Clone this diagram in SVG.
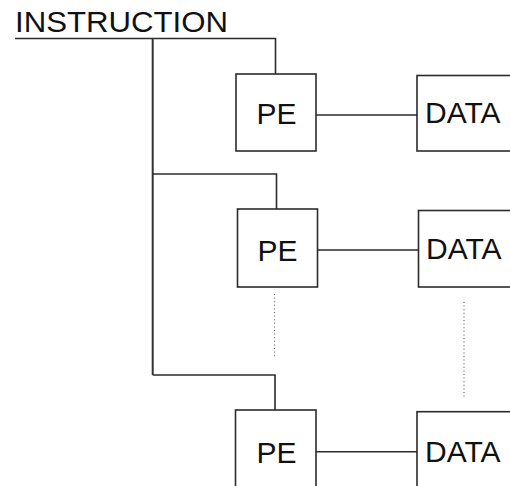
<svg xmlns="http://www.w3.org/2000/svg" width="510" height="486" viewBox="0 0 510 486">
  <style>
    .box { fill: #ffffff; stroke: #2b2b2b; stroke-width: 1.6; }
    .wire { fill: none; stroke: #2b2b2b; stroke-width: 1.6; }
    .trunk { fill: none; stroke: #333333; stroke-width: 2; }
    .dots { fill: none; stroke: #666666; stroke-width: 1.2; stroke-dasharray: 1 2.6; }
    .lbl { font-family: "Liberation Sans", Arial, sans-serif; font-size: 30px; fill: #111111; }
  </style>
  <rect width="510" height="486" fill="#ffffff"/>

  <!-- instruction bus label -->
  <text class="lbl" x="15" y="31.5" font-size="31" textLength="213" lengthAdjust="spacingAndGlyphs">INSTRUCTION</text>

  <g id="connectors">
    <!-- broadcast bus -->
    <polyline class="wire" points="15,38.5 275.5,38.5 275.5,74"/>
    <line class="trunk" x1="152.7" y1="38.5" x2="152.7" y2="375"/>
    <polyline class="wire" points="152.7,174 276.5,174 276.5,209"/>
    <polyline class="wire" points="152.7,375 275,375 275,410"/>
    <!-- PE to DATA links -->
    <line class="wire" x1="316" y1="115" x2="417" y2="115"/>
    <line class="wire" x1="317.5" y1="250" x2="418.5" y2="250"/>
    <line class="wire" x1="316" y1="451.7" x2="417" y2="451.7"/>
    <!-- elision marks -->
    <line class="dots" x1="274.5" y1="294" x2="274.5" y2="358"/>
    <line class="dots" x1="464" y1="302" x2="464" y2="397"/>
  </g>

  <g id="pe1">
    <rect class="box" x="236" y="74" width="80" height="77"/>
    <text class="lbl" x="256.5" y="124">PE</text>
  </g>
  <g id="data1">
    <rect class="box" x="417" y="75.5" width="110" height="75.5"/>
    <text class="lbl" x="425" y="123">DATA</text>
  </g>

  <g id="pe2">
    <rect class="box" x="237.5" y="209" width="80" height="78"/>
    <text class="lbl" x="257.5" y="260.5">PE</text>
  </g>
  <g id="data2">
    <rect class="box" x="418.5" y="210.5" width="110" height="76.5"/>
    <text class="lbl" x="426" y="258.5">DATA</text>
  </g>

  <g id="pe3">
    <rect class="box" x="235.5" y="410" width="80.5" height="90"/>
    <text class="lbl" x="256.5" y="462.5">PE</text>
  </g>
  <g id="data3">
    <rect class="box" x="417" y="411.7" width="110" height="90"/>
    <text class="lbl" x="425" y="462">DATA</text>
  </g>
</svg>
